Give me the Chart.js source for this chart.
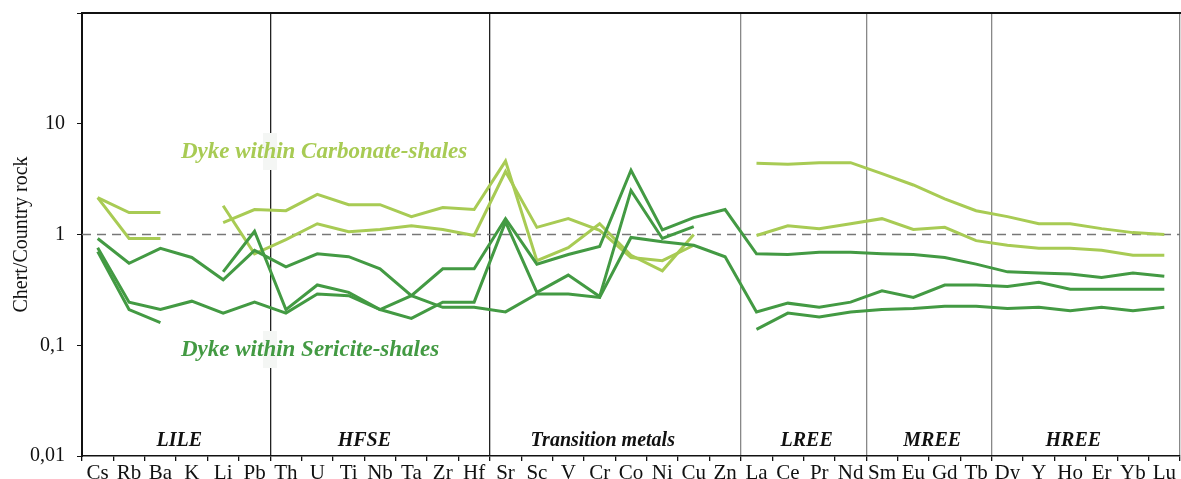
<!DOCTYPE html>
<html>
<head>
<meta charset="utf-8">
<script src="https://cdn.jsdelivr.net/npm/chart.js@4"></script>
<style>
  body { margin: 0; background: #fff; }
  #wrap { width: 1181px; height: 479px; }
</style>
</head>
<body>
<div id="wrap"><canvas id="traceChart"></canvas></div>
<script>
const elements = ['Cs','Rb','Ba','K','Li','Pb','Th','U','Ti','Nb','Ta','Zr','Hf','Sr','Sc','V','Cr','Co','Ni','Cu','Zn','La','Ce','Pr','Nd','Sm','Eu','Gd','Tb','Dy','Y','Ho','Er','Yb','Lu'];

// dykes within carbonate-shales
const carbonateA = [2.15, 1.58, 1.58, null, 1.28, 1.68, 1.64, 2.3, 1.86, 1.86, 1.45, 1.75, 1.68, 4.6, 0.58, 0.76, 1.25, 0.65, 0.47, 1.0, null, 4.4, 4.3, 4.45, 4.45, 3.55, 2.8, 2.1, 1.64, 1.45, 1.25, 1.25, 1.13, 1.04, 1.0];
const carbonateB = [2.15, 0.92, 0.92, null, 1.82, 0.67, 0.9, 1.25, 1.06, 1.11, 1.2, 1.11, 0.98, 3.7, 1.16, 1.39, 1.09, 0.62, 0.58, 0.8, null, 0.98, 1.2, 1.13, 1.25, 1.39, 1.11, 1.16, 0.88, 0.8, 0.75, 0.75, 0.72, 0.65, 0.65];

// dykes within sericite-shales
const sericiteA = [0.92, 0.55, 0.75, 0.62, 0.39, 0.72, 0.51, 0.67, 0.63, 0.49, 0.28, 0.22, 0.22, 0.2, 0.29, 0.29, 0.27, 0.94, 0.86, 0.8, 0.63, 0.2, 0.24, 0.22, 0.245, 0.31, 0.27, 0.35, 0.35, 0.34, 0.37, 0.32, 0.32, 0.32, 0.32];
const sericiteB = [0.76, 0.245, 0.21, 0.25, 0.195, 0.245, 0.195, 0.29, 0.28, 0.21, 0.175, 0.245, 0.245, 1.3, 0.3, 0.43, 0.275, 2.5, 0.92, 1.18, null, 0.139, 0.195, 0.18, 0.2, 0.21, 0.215, 0.225, 0.225, 0.215, 0.22, 0.205, 0.22, 0.205, 0.22];
const sericiteC = [0.7, 0.21, 0.16, null, 0.46, 1.07, 0.21, 0.35, 0.3, 0.21, 0.28, 0.49, 0.49, 1.39, 0.54, 0.66, 0.78, 3.8, 1.1, 1.42, 1.68, 0.67, 0.66, 0.69, 0.69, 0.67, 0.66, 0.62, 0.54, 0.46, 0.45, 0.44, 0.41, 0.45, 0.42];

const yTicks = [0.01, 0.1, 1, 10, 100];

const groupNames = ['LILE', 'HFSE', 'Transition metals', 'LREE', 'MREE', 'HREE'];

const light = '#a8cb54';
const dark = '#439a43';
const serif = '"Liberation Serif", "DejaVu Serif", serif';

// group boundaries (grid line index = first element of the group)
const blackLines = [6, 13];
const greyLines = [21, 25, 29];

const extras = {
  id: 'extras',
  beforeDatasetsDraw(chart) {
    const { ctx, chartArea: a, scales } = chart;
    const y1 = scales.y.getPixelForValue(1);
    ctx.save();
    ctx.strokeStyle = '#777';
    ctx.lineWidth = 1.3;
    ctx.setLineDash([9, 6]);
    ctx.beginPath();
    ctx.moveTo(a.left, y1);
    ctx.lineTo(a.right, y1);
    ctx.stroke();
    ctx.setLineDash([]);
    ctx.strokeStyle = '#111';
    ctx.lineWidth = 2;
    ctx.beginPath();
    ctx.moveTo(a.left - 1, a.top);
    ctx.lineTo(a.right + 1, a.top);
    ctx.stroke();
    ctx.restore();
  },
  afterDatasetsDraw(chart) {
    const { ctx, chartArea: a, scales } = chart;
    const x = scales.x;
    ctx.save();
    // little boxes where the labels cut the boundary line
    ctx.fillStyle = '#f4f6f4';
    ctx.fillRect(263, 133, 14, 37);
    ctx.fillRect(263, 331, 14, 37);

    ctx.font = 'italic bold 23px ' + serif;
    ctx.textBaseline = 'middle';
    ctx.fillStyle = light;
    ctx.fillText('Dyke within Carbonate-shales', 181, 152);
    ctx.fillStyle = dark;
    ctx.fillText('Dyke within Sericite-shales', 181, 350);

    const centers = [2.6, 8.5, 16.1, 22.6, 26.6, 31.1];
    ctx.font = 'italic bold 20px ' + serif;
    ctx.fillStyle = '#111';
    ctx.textAlign = 'center';
    groupNames.forEach((g, i) => {
      ctx.fillText(g, x.getPixelForValue(centers[i]), a.bottom - 15);
    });
    ctx.restore();
  }
};

const ctx = document.getElementById('traceChart');

function line(data, color) {
  return {
    data: data,
    borderColor: color,
    borderWidth: 3,
    pointRadius: 0,
    tension: 0,
    fill: false
  };
}

new Chart(ctx, {
  type: 'line',
  data: {
    labels: elements,
    datasets: [
      line(sericiteA, dark),
      line(sericiteB, dark),
      line(sericiteC, dark),
      line(carbonateA, light),
      line(carbonateB, light)
    ]
  },
  options: {
    responsive: true,
    maintainAspectRatio: false,
    animation: false,
    layout: {
      padding: { top: 13, right: 1, left: 0, bottom: 0 }
    },
    plugins: {
      legend: { display: false },
      tooltip: { enabled: false }
    },
    scales: {
      x: {
        offset: true,
        afterFit: (s) => { s.height = 23; },
        grid: {
          offset: true,
          lineWidth: 1.3,
          color: (c) => {
            if (c.index === undefined) return '#888';
            if (blackLines.includes(c.index)) return '#222';
            if (greyLines.includes(c.index)) return '#888';
            return 'rgba(0,0,0,0)';
          },
          tickColor: '#111',
          tickLength: 5
        },
        border: { color: '#111', width: 1.5 },
        ticks: {
          autoSkip: false,
          maxRotation: 0,
          padding: 0,
          color: '#111',
          font: { family: serif, size: 21 }
        }
      },
      y: {
        type: 'logarithmic',
        min: 0.01,
        max: 100,
        afterFit: (s) => {
          s.width = 82;
          s.paddingTop = 0;
          s.paddingBottom = 0;
        },
        afterBuildTicks: (s) => { s.ticks = yTicks.map(v => ({ value: v })); },
        grid: {
          drawOnChartArea: false,
          tickColor: '#111',
          tickLength: 5
        },
        border: { color: '#111', width: 2 },
        ticks: {
          padding: 12,
          color: '#111',
          font: { family: serif, size: 20 },
          callback: (v) => v === 100 ? '' : String(v).replace('.', ',')
        },
        title: {
          display: true,
          text: 'Chert/Country rock',
          color: '#111',
          font: { family: serif, size: 20 },
          padding: { top: 10, bottom: 4 }
        }
      }
    }
  },
  plugins: [extras]
});
</script>
</body>
</html>
